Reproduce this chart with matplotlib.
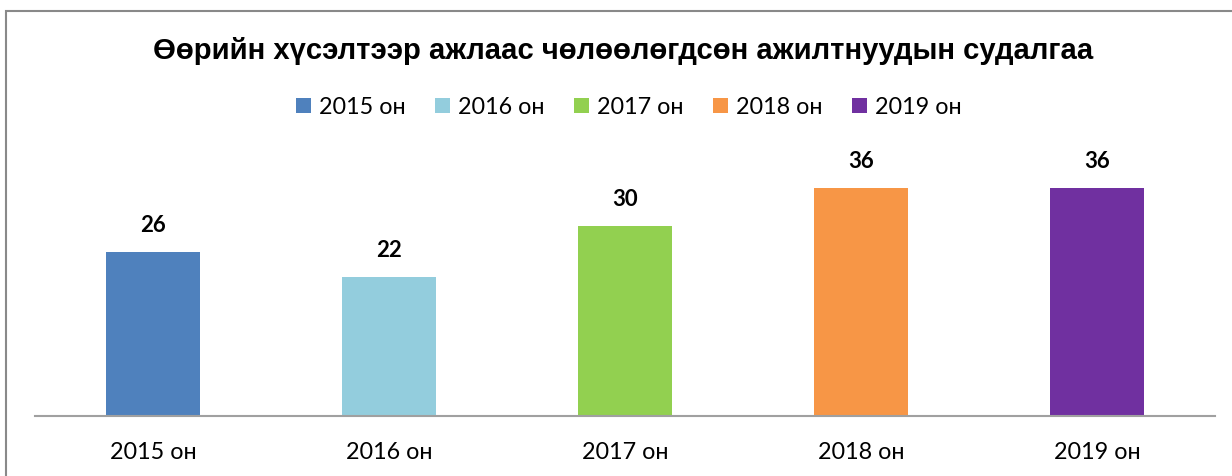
import matplotlib
matplotlib.use("Agg")
import matplotlib.pyplot as plt
from matplotlib.patches import Patch, Rectangle

# ======== data ========#
years = ["2015 он", "2016 он", "2017 он", "2018 он", "2019 он"]
values = [26, 22, 30, 36, 36]
colors = ["#4F81BD", "#93CDDD", "#92D050", "#F79646", "#7030A0"]
title = "Өөрийн хүсэлтээр ажлаас чөлөөлөгдсөн ажилтнуудын судалгаа"

W, H = 1232, 476
fig = plt.figure(figsize=(W / 100, H / 100), dpi=100)

# chart border (right and bottom edges fall outside the picture)
fig.patches.append(Rectangle((6 / W, -0.1), 1.2, (H - 11) / H + 0.1, transform=fig.transFigure,
                             fill=False, edgecolor="#898989", linewidth=1.5))

# axes: baseline at y=416, plot area x 35..1215
ax = fig.add_axes([35 / W, (H - 416) / H, 1180 / W, 253 / H])
x = range(len(years))
ax.bar(x, values, width=0.4, color=colors)
ax.set_xlim(-0.5, len(years) - 0.5)
ax.set_ylim(0, 40)

for s in ["top", "right", "left"]:
    ax.spines[s].set_visible(False)
ax.spines["bottom"].set_color("#A0A0A0")
ax.spines["bottom"].set_linewidth(1.5)
ax.set_yticks([])
ax.set_xticks(list(x))
ax.set_xticklabels(years, fontsize=16.8, fontfamily="Lato")
ax.tick_params(axis="x", length=0, pad=19)

for i, v in enumerate(values):
    ax.annotate(str(v), (i, v), xytext=(0, 19), textcoords="offset points",
                ha="center", va="center", fontsize=16, fontweight="bold", fontfamily="Lato")

fig.text(623 / W, 1 - 51 / H, title, ha="center", va="center",
         fontsize=21.1, fontweight="bold", fontfamily="Liberation Sans")

handles = [Patch(facecolor=c) for c in colors]
fig.legend(handles, years, loc="center", bbox_to_anchor=(629 / W, 1 - 107 / H), ncol=5,
           frameon=False, prop={"family": "Lato", "size": 16.8},
           handlelength=0.65, handleheight=0.65, handletextpad=0.35, columnspacing=1.25)

fig.savefig("out.png", dpi=100)
